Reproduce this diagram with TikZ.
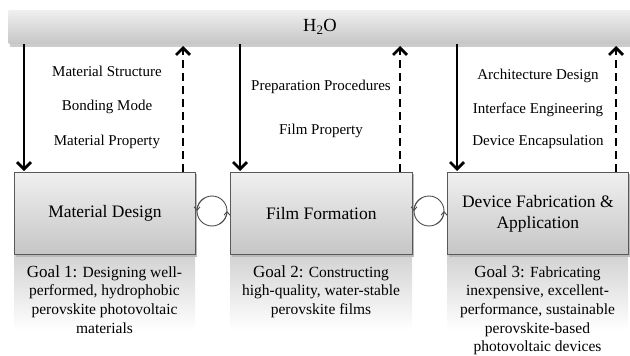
\documentclass[tikz,border=0pt]{standalone}
\usepackage{fontspec}
\setmainfont{Liberation Serif}
\usetikzlibrary{arrows.meta}
\tikzset{
  bar/.style={draw=none, top color=gray!12, bottom color=gray!45, rounded corners=2pt},
  mainbox/.style={draw=gray!70!black, line width=0.8pt, top color=gray!12, bottom color=gray!45},
  goalbox/.style={draw=none, top color=gray!35, bottom color=white},
  lab/.style={font=\fontsize{15}{17}\selectfont, align=center},
  title/.style={font=\fontsize{17.5}{21}\selectfont, align=center},
  goal/.style={font=\fontsize{15.5}{18.6}\selectfont, align=center},
  down/.style={line width=2.8pt, -{Straight Barb[length=7pt,width=14pt]}},
  up/.style={line width=2.8pt, dash pattern=on 8pt off 5pt, -{Straight Barb[length=7pt,width=14pt]}},
  cyc/.style={draw=gray!60!black, line width=0.9pt},
  cyctip/.style={draw=gray!60!black, line width=0.9pt, -{Straight Barb[length=3.5pt,width=6pt]}}
}
\begin{document}
\begin{tikzpicture}[x=1pt,y=-1pt]
\useasboundingbox (0,0) rectangle (630,356);
% H2O bar
\fill[gray!40] (10,13) rectangle (632,47);
\path[bar] (8,10) rectangle (632,44);
\node[font=\fontsize{18.5}{21}\selectfont] (h2o) at (320,27) {H\textsubscript{2}O};
% goal backgrounds
\path[goalbox] (14,255) rectangle (195,330);
\path[goalbox] (230,255) rectangle (412,330);
\path[goalbox] (447,255) rectangle (628,330);
% shadows
\fill[gray!55] (16,174) rectangle (197,257);
\fill[gray!55] (232,174) rectangle (414,257);
\fill[gray!55] (449,174) rectangle (630,257);
% boxes
\node[mainbox, minimum width=181pt, minimum height=82pt, anchor=north west, inner sep=0pt] (b1) at (14,172) {};
\node[mainbox, minimum width=182pt, minimum height=82pt, anchor=north west, inner sep=0pt] (b2) at (230,172) {};
\node[mainbox, minimum width=181pt, minimum height=82pt, anchor=north west, inner sep=0pt] (b3) at (447,172) {};
\node[title] (t1) at (b1.center) {Material Design};
\node[title] (t2) at (b2.center) {Film Formation};
\node[title] (t3) at (b3.center) {Device Fabrication \&\\Application};
% goals
\node[goal, anchor=north] (g1) at (104.5,262) {{\fontsize{17}{18.6}\selectfont Goal 1:} Designing well-\\performed, hydrophobic\\perovskite photovoltaic\\materials};
\node[goal, anchor=north] (g2) at (321,262) {{\fontsize{17}{18.6}\selectfont Goal 2:} Constructing\\high-quality, water-stable\\perovskite films};
\node[goal, anchor=north] (g3) at (537.5,262) {{\fontsize{17}{18.6}\selectfont Goal 3:} Fabricating\\inexpensive, excellent-\\performance, sustainable\\perovskite-based\\photovoltaic devices};
% arrows
\coordinate (d1s) at (24,44); \coordinate (d1e) at (24,171);
\coordinate (u1s) at (183,172); \coordinate (u1e) at (183,46);
\coordinate (d2s) at (240,44); \coordinate (d2e) at (240,171);
\coordinate (u2s) at (400,172); \coordinate (u2e) at (400,46);
\coordinate (d3s) at (457,44); \coordinate (d3e) at (457,171);
\coordinate (u3s) at (616,172); \coordinate (u3e) at (616,46);
\draw[down] (d1s) -- (d1e);
\draw[up] (u1s) -- (u1e);
\draw[down] (d2s) -- (d2e);
\draw[up] (u2s) -- (u2e);
\draw[down] (d3s) -- (d3e);
\draw[up] (u3s) -- (u3e);
% labels
\node[lab] (l11) at (107,71) {Material Structure};
\node[lab] (l12) at (107,107) {Bonding Mode};
\node[lab] (l13) at (107,142) {Material Property};
\node[lab] (l21) at (321,87) {Preparation Procedures};
\node[lab] (l22) at (321,131) {Film Property};
\node[lab] (l31) at (538,76) {Architecture Design};
\node[lab] (l32) at (538,110) {Interface Engineering};
\node[lab] (l33) at (538,142) {Device Encapsulation};
% cycle symbols
\foreach \cx/\nm in {212/c1, 429/c2}{
  \coordinate (\nm) at (\cx,211);
  \draw[cyc] (\nm) circle[radius=15];
  \draw[cyctip] (\nm) ++(-120:15) arc[start angle=-120, end angle=-180, radius=15];
  \draw[cyctip] (\nm) ++(60:15) arc[start angle=60, end angle=0, radius=15];
}
\end{tikzpicture}
\end{document}
